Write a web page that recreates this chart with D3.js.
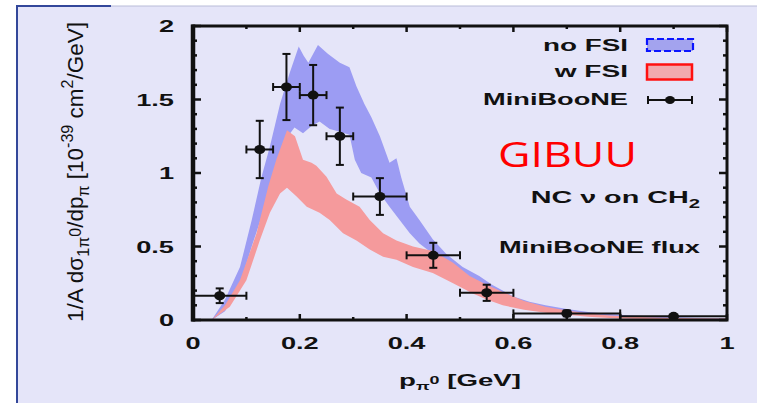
<!DOCTYPE html>
<html>
<head>
<meta charset="utf-8">
<script src="https://cdn.jsdelivr.net/npm/d3@7"></script>
<style>
  html, body { margin: 0; padding: 0; background: #ffffff; }
  svg { display: block; }
</style>
</head>
<body>
<svg id="chart" width="757" height="403"></svg>
<script>
// ---- MiniBooNE NC pi0 data: bin centres, bin edges, cross section, errors ----
const binCenter = [0.05, 0.125, 0.175, 0.225, 0.275, 0.35, 0.45, 0.55, 0.70, 0.90];
const binLow    = [0.00, 0.10, 0.15, 0.20, 0.25, 0.30, 0.40, 0.50, 0.60, 0.80];
const binHigh   = [0.10, 0.15, 0.20, 0.25, 0.30, 0.40, 0.50, 0.60, 0.80, 1.00];
const xsec      = [0.165, 1.16, 1.585, 1.53, 1.25, 0.84, 0.44, 0.185, 0.045, 0.025];
const xsecErr   = [0.05, 0.195, 0.225, 0.205, 0.195, 0.125, 0.085, 0.055, 0.02, 0.008];

// ---- GiBUU band without final state interactions (upper / lower edge) ----
const noFsiUpperP = [0.035, 0.06, 0.088, 0.11, 0.128, 0.144, 0.163, 0.181, 0.198, 0.207, 0.216, 0.234, 0.253, 0.275, 0.293, 0.306, 0.321, 0.334, 0.35, 0.368, 0.381, 0.39, 0.406, 0.424, 0.449, 0.474, 0.505, 0.536, 0.56, 0.6, 0.63, 0.66, 0.7, 0.74, 0.78, 0.82, 0.88, 0.94, 1.0];
const noFsiUpperV = [0.0, 0.14, 0.36, 0.68, 0.97, 1.18, 1.47, 1.68, 1.86, 1.80, 1.75, 1.87, 1.81, 1.75, 1.72, 1.59, 1.47, 1.38, 1.25, 1.07, 1.10, 0.97, 0.77, 0.68, 0.55, 0.45, 0.36, 0.30, 0.24, 0.16, 0.125, 0.10, 0.075, 0.055, 0.04, 0.03, 0.022, 0.016, 0.012];
const noFsiLowerP = [0.035, 0.06, 0.088, 0.11, 0.13, 0.15, 0.165, 0.18, 0.19, 0.206, 0.222, 0.237, 0.256, 0.275, 0.293, 0.303, 0.315, 0.334, 0.35, 0.368, 0.387, 0.406, 0.424, 0.449, 0.487, 0.536, 0.56, 0.6, 0.63, 0.66, 0.7, 0.74, 0.78, 0.82, 0.88, 0.94, 1.0];
const noFsiLowerV = [0.0, 0.06, 0.24, 0.5, 0.72, 0.98, 1.12, 1.26, 1.31, 1.27, 1.32, 1.35, 1.30, 1.28, 1.26, 1.09, 1.0, 0.97, 0.86, 0.77, 0.68, 0.59, 0.52, 0.45, 0.36, 0.25, 0.2, 0.12, 0.09, 0.07, 0.045, 0.03, 0.02, 0.012, 0.008, 0.005, 0.004];

// ---- GiBUU band with final state interactions ----
const wFsiUpperP = [0.035, 0.06, 0.088, 0.119, 0.141, 0.156, 0.176, 0.191, 0.206, 0.222, 0.231, 0.25, 0.269, 0.287, 0.312, 0.331, 0.356, 0.381, 0.412, 0.449, 0.487, 0.518, 0.55, 0.58, 0.62, 0.66, 0.7, 0.74, 0.78, 0.82, 0.88, 0.94, 1.0];
const wFsiUpperV = [0.0, 0.1, 0.27, 0.59, 0.91, 1.09, 1.29, 1.25, 1.09, 1.07, 1.05, 0.975, 0.86, 0.82, 0.77, 0.68, 0.59, 0.54, 0.50, 0.47, 0.39, 0.30, 0.24, 0.19, 0.13, 0.09, 0.065, 0.045, 0.03, 0.022, 0.016, 0.012, 0.01];
const wFsiLowerP = [0.035, 0.069, 0.10, 0.125, 0.144, 0.163, 0.176, 0.194, 0.213, 0.237, 0.256, 0.281, 0.306, 0.331, 0.356, 0.381, 0.412, 0.449, 0.487, 0.524, 0.55, 0.58, 0.62, 0.66, 0.7, 0.74, 0.78, 0.82, 0.88, 0.94, 1.0];
const wFsiLowerV = [0.0, 0.09, 0.27, 0.54, 0.73, 0.86, 0.90, 0.84, 0.77, 0.73, 0.68, 0.59, 0.54, 0.48, 0.43, 0.41, 0.36, 0.32, 0.25, 0.18, 0.14, 0.1, 0.07, 0.05, 0.035, 0.022, 0.014, 0.009, 0.005, 0.004, 0.003];

// ---- axis ticks and labels ----
const xTickValues = [0, 0.2, 0.4, 0.6, 0.8, 1];
const xTickLabels = ["0", "0.2", "0.4", "0.6", "0.8", "1"];
const yTickValues = [0, 0.5, 1, 1.5, 2];
const yTickLabels = ["0", "0.5", "1", "1.5", "2"];
const seriesNames = ["no FSI", "w FSI", "MiniBooNE"];

const colors = {
  page: "#e5e5f9",
  noFsi: "#9c9cf3",
  wFsi: "#f59a9c",
  ink: "#111111"
};

const FONT = "'Liberation Sans', Arial, Helvetica, sans-serif";
const STRETCH = 1.6;   // glyphs of the plot are drawn wide

const svg = d3.select("#chart");

// page background with its frame
svg.append("rect").attr("x", 17).attr("y", 6).attr("width", 740).attr("height", 397).attr("fill", colors.page);
svg.append("line").attr("x1", 17).attr("x2", 757).attr("y1", 6).attr("y2", 6).attr("stroke", "#b9bcd8").attr("stroke-width", 1);
svg.append("line").attr("x1", 17).attr("x2", 111).attr("y1", 6).attr("y2", 6).attr("stroke", "#33479a").attr("stroke-width", 2);
svg.append("line").attr("x1", 17).attr("x2", 17).attr("y1", 5).attr("y2", 403).attr("stroke", "#33479a").attr("stroke-width", 2);

const x = d3.scaleLinear().domain([0, 1]).range([193, 727]);
const y = d3.scaleLinear().domain([0, 2]).range([320, 26]);

svg.append("clipPath").attr("id", "plotClip")
  .append("rect").attr("x", x(0)).attr("y", y(2)).attr("width", x(1) - x(0)).attr("height", y(0) - y(2));

// closed band polygon: upper edge forwards, lower edge backwards
const line = d3.line().x(d => x(d[0])).y(d => y(d[1]));
function band(upP, upV, loP, loV) {
  const up = upP.map((p, i) => [p, upV[i]]);
  const lo = loP.map((p, i) => [p, loV[i]]).reverse();
  return line(up.concat(lo)) + "Z";
}

const plot = svg.append("g").attr("clip-path", "url(#plotClip)");
plot.append("path").attr("d", band(noFsiUpperP, noFsiUpperV, noFsiLowerP, noFsiLowerV)).attr("fill", colors.noFsi);
plot.append("path").attr("d", band(wFsiUpperP, wFsiUpperV, wFsiLowerP, wFsiLowerV)).attr("fill", colors.wFsi);

// data points with error bars
const pts = svg.append("g").attr("stroke", colors.ink).attr("stroke-width", 2).attr("fill", "none");
binCenter.forEach((c, i) => {
  const cx = x(c), cy = y(xsec[i]);
  const yTop = y(xsec[i] + xsecErr[i]), yBot = y(xsec[i] - xsecErr[i]);
  const xl = x(binLow[i]), xr = x(binHigh[i]);
  pts.append("line").attr("x1", cx).attr("x2", cx).attr("y1", yTop).attr("y2", yBot);
  pts.append("line").attr("x1", cx - 4).attr("x2", cx + 4).attr("y1", yTop).attr("y2", yTop);
  pts.append("line").attr("x1", cx - 4).attr("x2", cx + 4).attr("y1", yBot).attr("y2", yBot);
  pts.append("line").attr("x1", xl).attr("x2", xr).attr("y1", cy).attr("y2", cy);
  pts.append("line").attr("x1", xl).attr("x2", xl).attr("y1", cy - 4).attr("y2", cy + 4);
  pts.append("line").attr("x1", xr).attr("x2", xr).attr("y1", cy - 4).attr("y2", cy + 4);
  pts.append("ellipse").attr("cx", cx).attr("cy", cy).attr("rx", 5.5).attr("ry", 4.5)
    .attr("fill", colors.ink).attr("stroke", "none");
});

// frame and inward ticks
const frame = svg.append("g").attr("stroke", colors.ink);
const xMinor = d3.range(0, 1.0001, 0.1);
const yMinor = d3.range(0, 2.0001, 0.1);
const isMajor = (v, step) => Math.abs(v / step - Math.round(v / step)) < 1e-6;
xMinor.forEach(v => {
  const len = isMajor(v, 0.2) ? 6 : 3;
  frame.append("line").attr("x1", x(v)).attr("x2", x(v)).attr("y1", y(0)).attr("y2", y(0) - len).attr("stroke-width", 2.5);
  frame.append("line").attr("x1", x(v)).attr("x2", x(v)).attr("y1", y(2)).attr("y2", y(2) + len).attr("stroke-width", 2.5);
});
yMinor.forEach(v => {
  const len = isMajor(v, 0.5) ? 8 : 4;
  frame.append("line").attr("x1", x(0)).attr("x2", x(0) + len).attr("y1", y(v)).attr("y2", y(v)).attr("stroke-width", 2.5);
  frame.append("line").attr("x1", x(1)).attr("x2", x(1) - len).attr("y1", y(v)).attr("y2", y(v)).attr("stroke-width", 2.5);
});
frame.append("rect").attr("x", x(0)).attr("y", y(2)).attr("width", x(1) - x(0)).attr("height", y(0) - y(2))
  .attr("fill", "none").attr("stroke-width", 3);
frame.append("line").attr("x1", x(0)).attr("x2", x(0)).attr("y1", y(2) - 1.5).attr("y2", y(0) + 1.5).attr("stroke-width", 4.5);

// ---- text helpers ----
// segments: [{t, shift, size}] where shift moves the run down (+) or up (-) in px
function richText(parent, segs, opts) {
  const g = parent.append("g").attr("transform", `translate(${opts.x},${opts.y})` + (opts.rotate ? " rotate(-90)" : ""));
  const t = g.append("text")
    .attr("text-anchor", opts.anchor || "start")
    .attr("font-family", opts.family || FONT)
    .attr("font-size", opts.size)
    .attr("font-weight", opts.weight || "bold")
    .attr("fill", opts.fill || colors.ink);
  let cur = 0;
  segs.forEach(s => {
    const shift = s.shift || 0;
    t.append("tspan").attr("dy", shift - cur).attr("font-size", s.size || opts.size).text(s.t);
    cur = shift;
  });
  const natural = t.node().getBBox().width;
  const sx = opts.width ? opts.width / natural : STRETCH;
  const sy = opts.rotate ? STRETCH : 1;
  t.attr("transform", `scale(${sx},${sy})`);
  return t;
}
const plain = (parent, s, opts) => richText(parent, [{ t: s }], opts);

const txt = svg.append("g");

// tick labels
xTickValues.forEach((v, i) => plain(txt, xTickLabels[i], { x: x(v), y: 349, size: 17, anchor: "middle" }));
yTickValues.forEach((v, i) => plain(txt, yTickLabels[i], { x: 174, y: y(v) + 6, size: 17, anchor: "end" }));

// axis titles
richText(txt, [
  { t: "p" },
  { t: "π", shift: 4, size: 11 },
  { t: "0", shift: -2, size: 11 },
  { t: " [GeV]", shift: 0 }
], { x: 460, y: 386, size: 17, anchor: "middle", width: 122 });

richText(txt, [
  { t: "1/A dσ" },
  { t: "1π", shift: 4, size: 10 },
  { t: "0", shift: -1, size: 10 },
  { t: "/dp", shift: 0 },
  { t: "π", shift: 4, size: 10 },
  { t: " [10", shift: 0 },
  { t: "-39", shift: -6, size: 10 },
  { t: " cm", shift: 0 },
  { t: "2", shift: -6, size: 10 },
  { t: "/GeV]", shift: 0 }
], { x: 83, y: 172, size: 14, anchor: "middle", weight: "normal", rotate: true, width: 300 });

// legend
plain(txt, seriesNames[0], { x: 628, y: 51, size: 17, anchor: "end", width: 85 });
plain(txt, seriesNames[1], { x: 628, y: 77, size: 17, anchor: "end", width: 75 });
plain(txt, seriesNames[2], { x: 628, y: 105, size: 17, anchor: "end", width: 145 });

svg.append("rect").attr("x", 647).attr("y", 39).attr("width", 46).attr("height", 12)
  .attr("fill", "#a3a3ee").attr("stroke", "#0a14ff").attr("stroke-width", 2.2).attr("stroke-dasharray", "7,3");
svg.append("rect").attr("x", 647).attr("y", 64.5).attr("width", 45).attr("height", 15)
  .attr("fill", "#f2a9ae").attr("stroke", "#ff1010").attr("stroke-width", 2.5);
const lg = svg.append("g").attr("stroke", colors.ink).attr("stroke-width", 2);
lg.append("line").attr("x1", 648).attr("x2", 692).attr("y1", 100).attr("y2", 100);
lg.append("line").attr("x1", 648).attr("x2", 648).attr("y1", 96).attr("y2", 104);
lg.append("line").attr("x1", 692).attr("x2", 692).attr("y1", 96).attr("y2", 104);
lg.append("ellipse").attr("cx", 670).attr("cy", 100).attr("rx", 5).attr("ry", 4).attr("fill", colors.ink).attr("stroke", "none");

// annotations
richText(txt, [
  { t: "NC ν on CH" },
  { t: "2", shift: 5, size: 12 }
], { x: 700, y: 203, size: 17, anchor: "end", width: 170 });
plain(txt, "MiniBooNE flux", { x: 700, y: 253, size: 17, anchor: "end", width: 202 });
plain(txt, "GIBUU", { x: 498, y: 167, size: 35, anchor: "start", width: 139, weight: "normal",
  family: "'Open Sans', 'Noto Sans', sans-serif", fill: "#ff0000" });
</script>
</body>
</html>
